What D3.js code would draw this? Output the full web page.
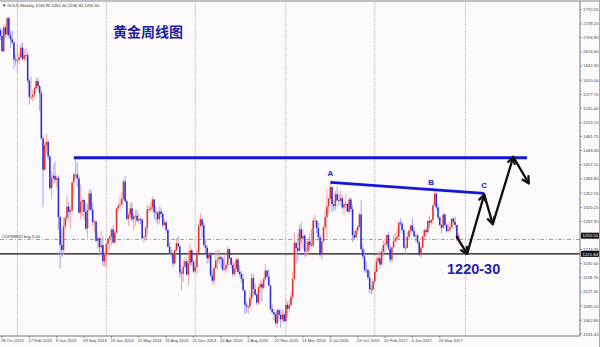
<!DOCTYPE html>
<html><head><meta charset="utf-8">
<script src="https://cdn.jsdelivr.net/npm/d3@7"></script>
<style>body{margin:0;background:#fff}svg{display:block}</style>
</head><body><svg id="c" width="600" height="347"></svg>
<script>
// GOLD weekly, first bar = week of 21 Oct 2012, last = week of 10 Dec 2017
const opens = [
1724,1711,1676,1730,1714,1751,1712,1703,1696,1657,1656,
1656,1662,1684,1658,1667,1667,1609,1572,1572,1577,1592,1608,1596,1580,1477,1406,1462,1469,1436,1364,1386,1392,1383,1387,1298,1234,1223,1277,1296,1322,1310,1313,1377,1395,1395,1386,1308,1333,1337,1310,1272,1314,1352,1315,1287,1288,1244,1250,1229,1234,1197,1213,
1237,1249,1254,1270,1240,1262,1318,1324,1326,1339,1379,1334,1294,1303,1318,1293,1300,1301,1290,1293,1292,1250,1252,1274,1316,1316,1320,1338,1309,1307,1293,1311,1305,1280,1286,1269,1230,1216,1214,1192,1222,1238,1231,1171,1169,1185,1197,1167,1193,1222,1195,1174,
1184,1217,1277,1293,1279,1234,1228,1204,1213,1165,1153,1182,1199,1201,1207,1203,1178,1179,1189,1225,1205,1189,1168,1180,1201,1173,1168,1157,1131,1098,1094,1094,1113,1159,1134,1121,1103,1138,1145,1137,1156,1176,1162,1142,1088,1081,1076,1056,1086,1075,1065,1076,
1061,1098,1089,1097,1116,1157,1239,1227,1221,1270,1249,1255,1220,1221,1242,1234,1233,1290,1290,1273,1252,1212,1243,1275,1298,1322,1340,1366,1327,1323,1350,1336,1335,1341,1320,1327,1328,1310,1338,1316,1257,1251,1267,1276,1304,1225,1208,1178,1177,1160,1134,1133,
1152,1173,1197,1204,1190,1219,1234,1236,1257,1226,1201,1229,1243,1249,1253,1285,1283,1268,1228,1228,1253,1267,1279,1266,1254,1256,1241,1212,1228,1254,1268,1264,1289,1285,1291,1325,1351,1320,1297,1280,1274,1304,1280,1266,1269,1275,1294,1287,1280,1246.9];
const highs = [
1730,1725,1737,1737,1754,1755,1723,1722,1698,1667,1693,
1673,1694,1696,1680,1684,1675,1614,1619,1588,1596,1616,1615,1600,1588,1484,1470,1488,1475,1440,1402,1418,1424,1392,1393,1301,1268,1297,1300,1348,1334,1317,1379,1400,1433,1423,1393,1372,1340,1338,1330,1329,1361,1361,1330,1292,1290,1263,1251,1267,1254,1218,1240,
1250,1256,1272,1280,1268,1320,1332,1345,1355,1383,1392,1338,1308,1331,1331,1306,1315,1315,1306,1298,1295,1256,1277,1325,1326,1332,1345,1339,1322,1312,1322,1320,1310,1292,1290,1270,1240,1225,1220,1225,1250,1255,1236,1178,1200,1207,1203,1221,1238,1226,1200,1202,
1224,1283,1307,1296,1286,1248,1233,1220,1218,1177,1187,1220,1224,1223,1209,1207,1215,1195,1232,1226,1207,1197,1194,1205,1205,1187,1175,1168,1132,1105,1098,1126,1170,1168,1147,1126,1141,1156,1152,1162,1191,1178,1179,1143,1098,1089,1082,1089,1088,1087,1088,1083,
1113,1105,1110,1128,1174,1263,1240,1261,1281,1287,1271,1259,1244,1246,1261,1271,1296,1304,1290,1287,1258,1244,1276,1315,1362,1343,1375,1367,1337,1357,1367,1352,1358,1348,1331,1352,1330,1344,1342,1324,1267,1272,1280,1308,1337,1236,1222,1197,1180,1175,1143,1158,
1181,1207,1219,1220,1226,1245,1245,1259,1264,1233,1232,1259,1262,1274,1289,1295,1288,1270,1236,1264,1270,1281,1296,1275,1260,1261,1243,1234,1256,1271,1275,1291,1301,1294,1326,1357,1353,1326,1300,1282,1306,1306,1284,1282,1289,1297,1298,1299,1280,1261.5];
const lows = [
1701,1674,1672,1705,1709,1705,1684,1692,1636,1644,1626,
1647,1661,1655,1652,1655,1603,1554,1565,1562,1570,1588,1589,1540,1475,1321,1402,1444,1428,1359,1339,1373,1375,1366,1269,1180,1207,1211,1270,1285,1292,1271,1309,1346,1384,1366,1306,1292,1300,1292,1267,1251,1312,1311,1278,1262,1241,1225,1210,1216,1186,1186,1182,
1212,1223,1234,1237,1237,1262,1310,1316,1324,1336,1330,1290,1277,1295,1287,1268,1277,1286,1284,1281,1248,1240,1248,1260,1308,1311,1312,1293,1287,1281,1282,1297,1273,1275,1261,1229,1212,1206,1183,1190,1220,1226,1160,1131,1150,1180,1165,1142,1187,1186,1170,1172,
1167,1216,1275,1250,1232,1216,1192,1193,1162,1147,1142,1180,1178,1191,1183,1175,1175,1170,1183,1200,1182,1162,1164,1174,1170,1162,1147,1131,1077,1080,1077,1088,1106,1117,1118,1098,1098,1125,1105,1132,1152,1159,1141,1085,1077,1062,1052,1046,1061,1046,1058,1057,
1061,1071,1080,1096,1110,1153,1191,1196,1219,1236,1225,1208,1208,1211,1225,1231,1228,1275,1261,1245,1208,1200,1238,1268,1250,1305,1336,1310,1311,1313,1335,1323,1332,1316,1302,1320,1310,1306,1310,1241,1245,1251,1259,1272,1220,1203,1171,1171,1156,1124,1122,1129,
1146,1172,1195,1180,1187,1209,1216,1232,1222,1195,1195,1226,1242,1241,1248,1277,1260,1226,1214,1227,1248,1260,1264,1251,1240,1236,1209,1204,1227,1245,1254,1259,1273,1281,1283,1324,1315,1291,1277,1261,1271,1277,1263,1263,1264,1272,1280,1272,1242,1236.3];
const closes = [
1711,1676,1730,1714,1751,1712,1703,1696,1657,1656,1656,
1662,1684,1658,1667,1667,1609,1572,1572,1577,1592,1608,1596,1580,1477,1406,1462,1469,1436,1364,1386,1392,1383,1387,1298,1234,1223,1277,1296,1322,1310,1313,1377,1395,1395,1386,1308,1333,1337,1310,1272,1314,1352,1315,1287,1288,1244,1250,1229,1234,1197,1213,1237,
1249,1254,1270,1240,1262,1318,1324,1326,1339,1379,1334,1294,1303,1318,1293,1300,1301,1290,1293,1292,1250,1252,1274,1316,1316,1320,1338,1309,1307,1293,1311,1305,1280,1286,1269,1230,1216,1214,1192,1222,1238,1231,1171,1169,1185,1197,1167,1193,1222,1195,1174,1184,
1217,1277,1293,1279,1234,1228,1204,1213,1165,1153,1182,1199,1201,1207,1203,1178,1179,1189,1225,1205,1189,1168,1180,1201,1173,1168,1157,1131,1098,1094,1094,1113,1159,1134,1121,1103,1138,1145,1137,1156,1176,1162,1142,1088,1081,1076,1056,1086,1075,1065,1076,1061,
1098,1089,1097,1116,1157,1239,1227,1221,1270,1249,1255,1220,1221,1242,1234,1233,1290,1290,1273,1252,1212,1243,1275,1298,1322,1340,1366,1327,1323,1350,1336,1335,1341,1320,1327,1328,1310,1338,1316,1257,1251,1267,1276,1304,1225,1208,1178,1177,1160,1134,1133,1152,
1173,1197,1204,1190,1219,1234,1236,1257,1226,1201,1229,1243,1249,1253,1285,1283,1268,1228,1228,1253,1267,1279,1266,1254,1256,1241,1212,1228,1254,1268,1264,1289,1285,1291,1325,1351,1320,1297,1280,1274,1304,1280,1266,1269,1275,1294,1287,1280,1248,1255.5];

const priceTicks = ["1770.55","1738.20","1706.90","1674.60","1642.30","1610.00","1577.70","1545.40","1513.10","1481.75","1449.45","1417.15","1384.85","1352.55","1320.25","1287.95","1224.35","1192.00","1159.70","1127.40","1095.10","1062.80","1031.45"];
const dateLabels = ["28 Oct 2012","17 Feb 2013","9 Jun 2013","29 Sep 2013","19 Jan 2014","11 May 2014","31 Aug 2014","21 Dec 2014","12 Apr 2015","2 Aug 2015","22 Nov 2015","13 Mar 2016","3 Jul 2016","23 Oct 2016","12 Feb 2017","4 Jun 2017","24 Sep 2017"];
const dateLabelBars = [1,17,33,49,65,81,97,113,129,145,161,177,193,209,225,241,257];
const yearGridBars = [10,62,114,167,219,272];
const header = "\u25BC GOLD,Weekly  1246.90 1261.50 1236.30 1255.50";
const orderLabel = "#24788831 buy 5.00";
const orderPrice = 1246.9;
const supportPrice = 1214;
const supportLabel = "1221.84";
const lastPriceLabel = "1255.50";
const resistance = [[43,1433],[308,1433]];
const trendAC = [[193,1377],[283,1352]];
const waveLabels = [["A",193,1392],["B",252,1371],["C",283,1364]];
const forecastPath = [[267,1253],[273,1214],[283,1349],[288,1282],[300,1435],[309,1375]];
const title = "黄金周线图";
const targetText = "1220-30";

const svg = d3.select("#c");
const W = 600, H = 347, plotR = 580, plotB = 336;
const x = d3.scaleLinear().domain([1, 268]).range([2, 2 + 267 * 1.71]);
const y = d3.scaleLinear().domain([1026.9, 1788.1]).range([336, 2]);

svg.append("rect").attr("width", W).attr("height", H).attr("fill", "#fcfafa");
svg.append("defs").append("clipPath").attr("id", "plot")
  .append("rect").attr("x", 0).attr("y", 2).attr("width", plotR).attr("height", plotB - 2);

// vertical grid
svg.append("g").selectAll("line").data(yearGridBars).join("line")
  .attr("x1", d => x(d)).attr("x2", d => x(d)).attr("y1", 2).attr("y2", plotB)
  .attr("stroke", "#8a8a8a").attr("stroke-width", 0.7).attr("stroke-dasharray", "1,1.2");

const plot = svg.append("g").attr("clip-path", "url(#plot)");

// order line
plot.append("line").attr("x1", 0).attr("x2", plotR).attr("y1", y(orderPrice)).attr("y2", y(orderPrice))
  .attr("stroke", "#3aa83a").attr("stroke-width", 0.7).attr("stroke-dasharray", "4,2,1,2");
svg.append("text").attr("x", 2).attr("y", y(orderPrice) - 1.2).text(orderLabel)
  .attr("font-family", "Liberation Sans, Arial, sans-serif").attr("font-size", 4.2).attr("fill", "#333");

// support line
plot.append("line").attr("x1", 0).attr("x2", plotR).attr("y1", y(supportPrice)).attr("y2", y(supportPrice))
  .attr("stroke", "#111").attr("stroke-width", 1.3);

// candles
const bars = closes.map((c, i) => ({ i, o: opens[i], h: highs[i], l: lows[i], c }));
const cg = plot.append("g");
cg.selectAll("line.w").data(bars).join("line").attr("class", "w")
  .attr("x1", d => x(d.i)).attr("x2", d => x(d.i)).attr("y1", d => y(d.h)).attr("y2", d => y(d.l))
  .attr("stroke", d => d.c >= d.o ? "#f09a9a" : "#9a9af2").attr("stroke-width", 0.9);
cg.selectAll("rect.b").data(bars).join("rect").attr("class", "b")
  .attr("x", d => x(d.i) - 0.75).attr("width", 1.5)
  .attr("y", d => y(Math.max(d.o, d.c)))
  .attr("height", d => Math.max(0.8, Math.abs(y(d.o) - y(d.c))))
  .attr("fill", d => d.c >= d.o ? "#e0302c" : "#2828d8");

// blue lines
const line = d3.line().x(d => x(d[0])).y(d => y(d[1]));
plot.append("path").attr("d", line(resistance)).attr("stroke", "#1616d6").attr("stroke-width", 3).attr("fill", "none");
plot.append("path").attr("d", line(trendAC)).attr("stroke", "#1616d6").attr("stroke-width", 2.6).attr("fill", "none");
svg.append("g").selectAll("text").data(waveLabels).join("text")
  .attr("x", d => x(d[1])).attr("y", d => y(d[2])).attr("text-anchor", "middle")
  .attr("font-family", "Liberation Sans, Arial, sans-serif").attr("font-weight", "bold").attr("font-size", 8)
  .attr("fill", "#2222b0").text(d => d[0]);

// forecast arrows
const fg = svg.append("g").attr("stroke", "#111").attr("fill", "none").attr("stroke-width", 2.3)
  .attr("stroke-linecap", "round").attr("stroke-linejoin", "round");
fg.append("path").attr("d", line(forecastPath));
for (let k = 1; k < forecastPath.length; k++) {
  const p = forecastPath[k - 1], q = forecastPath[k];
  const x1 = x(p[0]), y1 = y(p[1]), x2 = x(q[0]), y2 = y(q[1]);
  const a = Math.atan2(y2 - y1, x2 - x1), L = 7, s = 0.5;
  fg.append("path").attr("d", `M${x2 - L * Math.cos(a - s)},${y2 - L * Math.sin(a - s)}L${x2},${y2}L${x2 - L * Math.cos(a + s)},${y2 - L * Math.sin(a + s)}`);
}

// frame
svg.append("line").attr("x1", 0).attr("x2", W).attr("y1", 1).attr("y2", 1).attr("stroke", "#888").attr("stroke-width", 1.2);
svg.append("line").attr("x1", plotR).attr("x2", plotR).attr("y1", 1).attr("y2", plotB).attr("stroke", "#555").attr("stroke-width", 0.8);
svg.append("line").attr("x1", 0).attr("x2", plotR).attr("y1", plotB).attr("y2", plotB).attr("stroke", "#555").attr("stroke-width", 0.8);
svg.append("line").attr("x1", W - 0.5).attr("x2", W - 0.5).attr("y1", 0).attr("y2", H).attr("stroke", "#aaa");

// price axis
const ay = svg.append("g").attr("font-family", "Liberation Sans, Arial, sans-serif").attr("font-size", 4.3).attr("fill", "#444");
priceTicks.forEach(t => {
  const yy = y(parseFloat(t));
  ay.append("line").attr("x1", plotR).attr("x2", plotR + 2).attr("y1", yy).attr("y2", yy).attr("stroke", "#555").attr("stroke-width", 0.6);
  ay.append("text").attr("x", plotR + 3).attr("y", yy + 1.5).text(t);
});
[[closes[closes.length - 1], lastPriceLabel], [supportPrice, supportLabel]].forEach(([p, t]) => {
  const yy = y(p);
  svg.append("rect").attr("x", plotR + 1).attr("y", yy - 3).attr("width", 18).attr("height", 6).attr("fill", "#111");
  svg.append("text").attr("x", plotR + 2.5).attr("y", yy + 1.6).text(t)
    .attr("font-family", "Liberation Sans, Arial, sans-serif").attr("font-size", 4.3).attr("fill", "#fff");
});

// date axis
const ax = svg.append("g").attr("font-family", "Liberation Sans, Arial, sans-serif").attr("font-size", 4.2).attr("fill", "#444");
dateLabels.forEach((t, k) => {
  const xx = x(dateLabelBars[k]);
  ax.append("line").attr("x1", xx).attr("x2", xx).attr("y1", plotB).attr("y2", plotB + 2).attr("stroke", "#555").attr("stroke-width", 0.6);
  ax.append("text").attr("x", xx - 1).attr("y", plotB + 6).text(t);
});

// header
svg.append("text").attr("x", 2).attr("y", 6.5).text(header)
  .attr("font-family", "Liberation Sans, Arial, sans-serif").attr("font-size", 4.2).attr("fill", "#333");

// titles
svg.append("text").attr("x", 148).attr("y", 36.5).attr("text-anchor", "middle").text(title)
  .attr("font-family", "Noto Sans CJK SC, sans-serif").attr("font-weight", "bold").attr("font-size", 14).attr("fill", "#1e1e9e");
svg.append("text").attr("x", 447).attr("y", 273.5).text(targetText)
  .attr("font-family", "Liberation Sans, Arial, sans-serif").attr("font-weight", "bold").attr("font-size", 14.5).attr("fill", "#1f1fb0");
</script>
</body></html>
